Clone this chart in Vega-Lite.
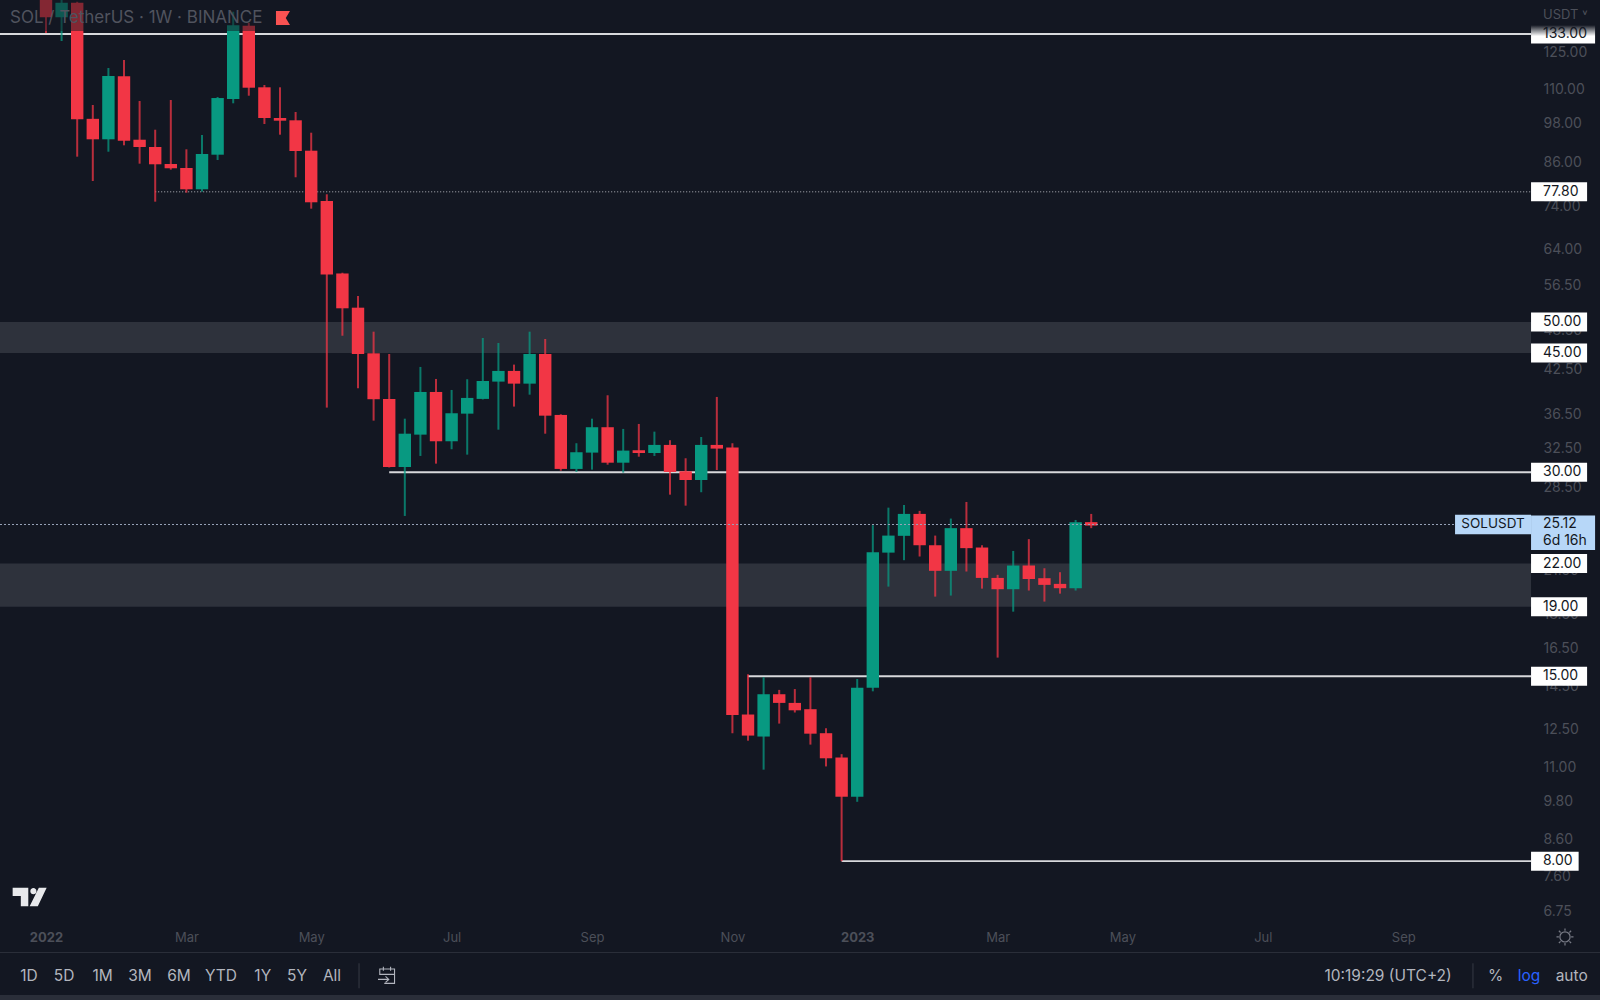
{
  "$schema": "https://vega.github.io/schema/vega-lite/v6.json",
  "background": "#131722",
  "padding": 0,
  "autosize": {"type": "none"},
  "width": 1600,
  "height": 1000,
  "view": {"stroke": null},
  "config": {"font": "Inter", "text": {"font": "Inter"}},
  "datasets": {
    "candles": [
      {"date":"2022-01-03","open":150.8,"high":155,"low":133.45,"close":140.8},
      {"date":"2022-01-10","open":140.8,"high":151,"low":129.87,"close":147.9},
      {"date":"2022-01-17","open":147.9,"high":148.4,"low":87.67,"close":99.54},
      {"date":"2022-01-24","open":99.7,"high":104.5,"low":80.72,"close":93.0},
      {"date":"2022-01-31","open":93.0,"high":118.49,"low":89.16,"close":115.31},
      {"date":"2022-02-07","open":115.2,"high":121.76,"low":91.12,"close":92.56},
      {"date":"2022-02-14","open":92.87,"high":105.92,"low":85.61,"close":90.6},
      {"date":"2022-02-21","open":90.6,"high":96.08,"low":75.24,"close":85.43},
      {"date":"2022-02-28","open":85.52,"high":106.28,"low":83.88,"close":84.28},
      {"date":"2022-03-07","open":84.36,"high":89.89,"low":77.57,"close":78.47},
      {"date":"2022-03-14","open":78.47,"high":94.37,"low":77.84,"close":88.47},
      {"date":"2022-03-21","open":88.26,"high":107.37,"low":86.69,"close":107.0},
      {"date":"2022-03-28","open":106.64,"high":143.47,"low":105.1,"close":136.99},
      {"date":"2022-04-04","open":136.8,"high":138.07,"low":107.85,"close":110.82},
      {"date":"2022-04-11","open":110.97,"high":111.84,"low":97.96,"close":99.98},
      {"date":"2022-04-18","open":99.98,"high":110.97,"low":94.47,"close":99.07},
      {"date":"2022-04-25","open":99.2,"high":102.04,"low":81.74,"close":89.38},
      {"date":"2022-05-02","open":89.47,"high":95.11,"low":73.47,"close":75.08},
      {"date":"2022-05-09","open":75.42,"high":77.15,"low":37.37,"close":58.75},
      {"date":"2022-05-16","open":58.95,"high":59.1,"low":47.71,"close":52.37},
      {"date":"2022-05-23","open":52.48,"high":54.61,"low":39.91,"close":44.84},
      {"date":"2022-05-30","open":44.94,"high":48.37,"low":35.75,"close":38.45},
      {"date":"2022-06-06","open":38.49,"high":44.84,"low":30.49,"close":30.54},
      {"date":"2022-06-13","open":30.54,"high":35.99,"low":25.86,"close":34.2},
      {"date":"2022-06-20","open":34.09,"high":42.91,"low":31.71,"close":39.41},
      {"date":"2022-06-27","open":39.41,"high":41.19,"low":30.89,"close":33.33},
      {"date":"2022-07-04","open":33.33,"high":39.68,"low":32.44,"close":36.66},
      {"date":"2022-07-11","open":36.61,"high":41.15,"low":31.85,"close":38.62},
      {"date":"2022-07-18","open":38.49,"high":47.34,"low":38.42,"close":40.91},
      {"date":"2022-07-25","open":40.82,"high":46.54,"low":34.67,"close":42.33},
      {"date":"2022-08-01","open":42.33,"high":43.25,"low":37.5,"close":40.54},
      {"date":"2022-08-08","open":40.54,"high":48.37,"low":39.05,"close":44.84},
      {"date":"2022-08-15","open":44.84,"high":47.18,"low":34.2,"close":36.36},
      {"date":"2022-08-22","open":36.45,"high":36.53,"low":30.16,"close":30.34},
      {"date":"2022-08-29","open":30.34,"high":33.11,"low":30.03,"close":32.11},
      {"date":"2022-09-05","open":32.07,"high":35.99,"low":30.27,"close":34.96},
      {"date":"2022-09-12","open":34.96,"high":38.97,"low":30.78,"close":30.99},
      {"date":"2022-09-19","open":30.99,"high":34.76,"low":29.96,"close":32.29},
      {"date":"2022-09-26","open":32.33,"high":35.35,"low":31.63,"close":32.03},
      {"date":"2022-10-03","open":32.03,"high":34.44,"low":31.71,"close":32.92},
      {"date":"2022-10-10","open":32.92,"high":33.45,"low":27.8,"close":30.03},
      {"date":"2022-10-17","open":30.1,"high":31.46,"low":26.78,"close":29.22},
      {"date":"2022-10-24","open":29.22,"high":33.82,"low":28.03,"close":32.92},
      {"date":"2022-10-31","open":32.92,"high":38.75,"low":30.23,"close":32.51},
      {"date":"2022-11-07","open":32.64,"high":33.11,"low":12.36,"close":13.15},
      {"date":"2022-11-14","open":13.17,"high":15.1,"low":12.05,"close":12.26},
      {"date":"2022-11-21","open":12.22,"high":14.95,"low":10.92,"close":14.11},
      {"date":"2022-11-28","open":14.11,"high":14.32,"low":12.77,"close":13.7},
      {"date":"2022-12-05","open":13.7,"high":14.36,"low":13.26,"close":13.36},
      {"date":"2022-12-12","open":13.41,"high":14.95,"low":11.89,"close":12.34},
      {"date":"2022-12-19","open":12.36,"high":12.57,"low":11.04,"close":11.35},
      {"date":"2022-12-26","open":11.38,"high":11.51,"low":8.0,"close":9.96},
      {"date":"2023-01-02","open":9.96,"high":14.86,"low":9.79,"close":14.43},
      {"date":"2023-01-09","open":14.43,"high":25.06,"low":14.25,"close":22.86},
      {"date":"2023-01-16","open":22.83,"high":26.6,"low":20.34,"close":24.19},
      {"date":"2023-01-23","open":24.17,"high":26.84,"low":22.25,"close":26.04},
      {"date":"2023-01-30","open":26.04,"high":26.31,"low":22.53,"close":23.41},
      {"date":"2023-02-06","open":23.41,"high":24.19,"low":19.66,"close":21.46},
      {"date":"2023-02-13","open":21.46,"high":25.63,"low":19.73,"close":24.81},
      {"date":"2023-02-20","open":24.81,"high":27.12,"low":21.41,"close":23.18},
      {"date":"2023-02-27","open":23.23,"high":23.41,"low":20.2,"close":20.95},
      {"date":"2023-03-06","open":20.95,"high":21.17,"low":15.98,"close":20.16},
      {"date":"2023-03-13","open":20.16,"high":22.96,"low":18.68,"close":21.85},
      {"date":"2023-03-20","open":21.85,"high":23.9,"low":20.07,"close":20.88},
      {"date":"2023-03-27","open":20.93,"high":21.65,"low":19.33,"close":20.46},
      {"date":"2023-04-03","open":20.53,"high":21.36,"low":19.86,"close":20.23},
      {"date":"2023-04-10","open":20.23,"high":25.51,"low":20.07,"close":25.32},
      {"date":"2023-04-17","open":25.32,"high":26.04,"low":24.81,"close":25.03}
    ],
    "toolbar": [
      {"label":"1D","date":"2021-12-26T09:00:00Z","price":5.42},
      {"label":"5D","date":"2022-01-11T02:00:00Z","price":5.42},
      {"label":"1M","date":"2022-01-28T10:30:00Z","price":5.42},
      {"label":"3M","date":"2022-02-14T04:00:00Z","price":5.42},
      {"label":"6M","date":"2022-03-03T16:00:00Z","price":5.42},
      {"label":"YTD","date":"2022-03-22T13:00:00Z","price":5.42},
      {"label":"1Y","date":"2022-04-10T06:00:00Z","price":5.42},
      {"label":"5Y","date":"2022-04-25T15:00:00Z","price":5.42},
      {"label":"All","date":"2022-05-11T08:00:00Z","price":5.42},
      {"label":"10:19:29 (UTC+2)","date":"2023-08-28T05:00:00Z","price":5.42},
      {"label":"%","date":"2023-10-15T12:00:00Z","price":5.42},
      {"label":"log","date":"2023-10-30T11:00:00Z","price":5.42},
      {"label":"auto","date":"2023-11-18T14:00:00Z","price":5.42}
    ]
  },
  "layer": [
    {
      "data": {"values": [
        {"top": 50, "bottom": 45, "start": "2021-12-13T08:38:00Z", "end": "2023-10-31T08:24:00Z"},
        {"top": 22, "bottom": 19, "start": "2021-12-13T08:38:00Z", "end": "2023-10-31T08:24:00Z"}
      ], "format": {"parse": {"start": "date", "end": "date"}}},
      "mark": {"type": "rect", "color": "#2e323c"},
      "encoding": {
        "y": {"field": "top", "type": "quantitative", "title": null, "scale": {"type": "log", "domain": [4.992, 149.3], "nice": false, "zero": false}},
        "y2": {"field": "bottom"},
        "x": {"field": "start", "type": "temporal", "title": null, "scale": {"type": "utc", "domain": ["2021-12-13T08:38:00Z", "2023-12-01T07:00:00Z"], "nice": false, "padding": 0}},
        "x2": {"field": "end"}
      }
    },
    {
      "data": {"values": [
        {"price": 133, "start": "2021-12-13T08:38:00Z", "end": "2023-10-31T08:24:00Z"},
        {"price": 30, "start": "2022-06-06", "end": "2023-10-31T08:24:00Z"},
        {"price": 15, "start": "2022-11-14", "end": "2023-10-31T08:24:00Z"},
        {"price": 8, "start": "2022-12-26", "end": "2023-10-31T08:24:00Z"}
      ], "format": {"parse": {"start": "date", "end": "date"}}},
      "mark": {"type": "rule", "color": "#d8d9dc", "strokeWidth": 1.8, "clip": true},
      "encoding": {
        "x": {"field": "start", "type": "temporal", "title": null},
        "x2": {"field": "end"},
        "y": {"field": "price", "type": "quantitative", "title": null}
      }
    },
    {
      "data": {"values": [{"price": 77.8, "start": "2022-02-21", "end": "2023-10-31T08:24:00Z"}], "format": {"parse": {"start": "date", "end": "date"}}},
      "mark": {"type": "rule", "color": "#b4b6bc", "strokeWidth": 1, "strokeDash": [1, 2], "clip": true},
      "encoding": {
        "x": {"field": "start", "type": "temporal", "title": null},
        "x2": {"field": "end"},
        "y": {"field": "price", "type": "quantitative", "title": null}
      }
    },
    {
      "data": {"name": "candles"},
      "mark": {"type": "rule", "strokeWidth": 2, "opacity": 0.75, "clip": true},
      "encoding": {
        "x": {"field": "date", "type": "temporal", "title": null},
        "y": {"field": "low", "type": "quantitative", "title": null},
        "y2": {"field": "high"},
        "color": {"condition": {"test": "datum.close >= datum.open", "value": "#089981"}, "value": "#f23645"}
      }
    },
    {
      "data": {"name": "candles"},
      "mark": {"type": "bar", "size": 12.4, "clip": true},
      "encoding": {
        "x": {
          "field": "date",
          "type": "temporal",
          "title": null,
          "scale": {"padding": 0},
          "axis": {
            "orient": "bottom",
            "values": ["2022-01-03", "2022-03-07", "2022-05-02", "2022-07-04", "2022-09-05", "2022-11-07", "2023-01-02", "2023-03-06", "2023-05-01", "2023-07-03", "2023-09-04"],
            "labelExpr": "utcmonth(datum.value) == 0 ? utcFormat(datum.value, '%Y') : utcFormat(datum.value, '%b')",
            "labelFontWeight": {"condition": {"test": "utcmonth(datum.value) == 0", "value": "bold"}, "value": "normal"},
            "domain": false,
            "ticks": false,
            "grid": false,
            "labelOverlap": false,
            "labelPadding": -69,
            "labelFontSize": 13,
            "labelFont": "Inter",
            "labelColor": "#4c4f59"
          }
        },
        "y": {
          "field": "open",
          "type": "quantitative",
          "title": null,
          "axis": {
            "orient": "right",
            "values": [125, 110, 98, 86, 74, 64, 56.5, 48.5, 42.5, 36.5, 32.5, 28.5, 21.5, 18.5, 16.5, 14.5, 12.5, 11, 9.8, 8.6, 7.6, 6.75],
            "format": ".2f",
            "domain": false,
            "ticks": false,
            "grid": false,
            "labelOverlap": false,
            "labelAlign": "left",
            "labelPadding": -57,
            "labelFontSize": 14,
            "labelFont": "Inter",
            "labelColor": "#4c4f59"
          }
        },
        "y2": {"field": "close"},
        "color": {"condition": {"test": "datum.close >= datum.open", "value": "#089981"}, "value": "#f23645"}
      }
    },
    {
      "data": {"values": [{"price": 25.12, "start": "2021-12-13T08:38:00Z", "end": "2023-09-27T06:00:00Z"}], "format": {"parse": {"start": "date", "end": "date"}}},
      "mark": {"type": "rule", "color": "#98a3ba", "strokeWidth": 1, "strokeDash": [2, 2], "clip": true},
      "encoding": {
        "x": {"field": "start", "type": "temporal", "title": null},
        "x2": {"field": "end"},
        "y": {"field": "price", "type": "quantitative", "title": null}
      }
    },
    {
      "data": {"values": [{"top": 149.3, "bottom": 134.4}]},
      "mark": {"type": "rect", "color": "#131722", "opacity": 0.5},
      "encoding": {
        "y": {"field": "top", "type": "quantitative", "title": null},
        "y2": {"field": "bottom"}
      }
    },
    {
      "data": {"values": [{"label": "SOL / TetherUS · 1W · BINANCE", "date": "2021-12-17T20:00:00Z", "price": 140.4}]},
      "mark": {"type": "text", "align": "left", "fontSize": 17, "color": "#50535e"},
      "encoding": {
        "x": {"field": "date", "type": "temporal", "title": null},
        "y": {"field": "price", "type": "quantitative", "title": null},
        "text": {"field": "label"}
      }
    },
    {
      "data": {"values": [{"date": "2022-04-19T08:00:00Z", "price": 140.4}]},
      "mark": {"type": "point", "shape": "M-0.5,-0.5H0.5L0.2,0L0.5,0.5H-0.5Z", "size": 784, "filled": true, "opacity": 1, "color": "#f95252"},
      "encoding": {
        "x": {"field": "date", "type": "temporal", "title": null},
        "y": {"field": "price", "type": "quantitative", "title": null}
      }
    },
    {
      "data": {"values": [{"label": "USDT ˅", "date": "2023-11-05T17:00:00Z", "price": 141.9}]},
      "mark": {"type": "text", "align": "left", "fontSize": 13, "color": "#4c4f59"},
      "encoding": {
        "x": {"field": "date", "type": "temporal", "title": null},
        "y": {"field": "price", "type": "quantitative", "title": null},
        "text": {"field": "label"}
      }
    },
    {
      "data": {"values": [{"top": 137.1, "bottom": 128.8, "start": "2023-10-31T08:24:00Z", "end": "2023-11-29T02:00:00Z"}], "format": {"parse": {"start": "date", "end": "date"}}},
      "mark": {
        "type": "rect",
        "color": {
          "gradient": "linear", "x1": 0, "y1": 0, "x2": 0, "y2": 1,
          "stops": [{"offset": 0, "color": "#131722"}, {"offset": 0.6, "color": "#ffffff"}, {"offset": 1, "color": "#ffffff"}]
        }
      },
      "encoding": {
        "x": {"field": "start", "type": "temporal", "title": null},
        "x2": {"field": "end"},
        "y": {"field": "top", "type": "quantitative", "title": null},
        "y2": {"field": "bottom"}
      }
    },
    {
      "data": {"values": [
        {"price": 77.8, "start": "2023-10-31T08:24:00Z", "end": "2023-11-25T12:00:00Z"},
        {"price": 50, "start": "2023-10-31T08:24:00Z", "end": "2023-11-25T12:00:00Z"},
        {"price": 45, "start": "2023-10-31T08:24:00Z", "end": "2023-11-25T12:00:00Z"},
        {"price": 30, "start": "2023-10-31T08:24:00Z", "end": "2023-11-25T12:00:00Z"},
        {"price": 22, "start": "2023-10-31T08:24:00Z", "end": "2023-11-25T12:00:00Z"},
        {"price": 19, "start": "2023-10-31T08:24:00Z", "end": "2023-11-25T12:00:00Z"},
        {"price": 15, "start": "2023-10-31T08:24:00Z", "end": "2023-11-25T12:00:00Z"},
        {"price": 8, "start": "2023-10-31T08:24:00Z", "end": "2023-11-21T17:00:00Z"}
      ], "format": {"parse": {"start": "date", "end": "date"}}},
      "mark": {"type": "rule", "color": "#ffffff", "strokeWidth": 19},
      "encoding": {
        "x": {"field": "start", "type": "temporal", "title": null},
        "x2": {"field": "end"},
        "y": {"field": "price", "type": "quantitative", "title": null}
      }
    },
    {
      "data": {"values": [{"price": 25.12, "start": "2023-09-27T06:00:00Z", "end": "2023-10-31T08:24:00Z"}], "format": {"parse": {"start": "date", "end": "date"}}},
      "mark": {"type": "rule", "color": "#b7d7f8", "strokeWidth": 19.5},
      "encoding": {
        "x": {"field": "start", "type": "temporal", "title": null},
        "x2": {"field": "end"},
        "y": {"field": "price", "type": "quantitative", "title": null}
      }
    },
    {
      "data": {"values": [{"top": 25.91, "bottom": 23.03, "start": "2023-10-31T08:24:00Z", "end": "2023-11-29T02:00:00Z"}], "format": {"parse": {"start": "date", "end": "date"}}},
      "mark": {"type": "rect", "color": "#b7d7f8"},
      "encoding": {
        "x": {"field": "start", "type": "temporal", "title": null},
        "x2": {"field": "end"},
        "y": {"field": "top", "type": "quantitative", "title": null},
        "y2": {"field": "bottom"}
      }
    },
    {
      "data": {"values": [
        {"label": "133.00", "price": 133, "date": "2023-11-05T17:00:00Z"},
        {"label": "77.80", "price": 77.8, "date": "2023-11-05T17:00:00Z"},
        {"label": "50.00", "price": 50, "date": "2023-11-05T17:00:00Z"},
        {"label": "45.00", "price": 45, "date": "2023-11-05T17:00:00Z"},
        {"label": "30.00", "price": 30, "date": "2023-11-05T17:00:00Z"},
        {"label": "25.12", "price": 25.12, "date": "2023-11-05T17:00:00Z"},
        {"label": "6d 16h", "price": 23.79, "date": "2023-11-05T17:00:00Z"},
        {"label": "22.00", "price": 22, "date": "2023-11-05T17:00:00Z"},
        {"label": "19.00", "price": 19, "date": "2023-11-05T17:00:00Z"},
        {"label": "15.00", "price": 15, "date": "2023-11-05T17:00:00Z"},
        {"label": "8.00", "price": 8, "date": "2023-11-05T17:00:00Z"}
      ]},
      "mark": {"type": "text", "align": "left", "fontSize": 14, "color": "#131722"},
      "encoding": {
        "x": {"field": "date", "type": "temporal", "title": null},
        "y": {"field": "price", "type": "quantitative", "title": null},
        "text": {"field": "label"}
      }
    },
    {
      "data": {"values": [{"label": "SOLUSDT", "price": 25.12, "date": "2023-10-14T07:00:00Z"}]},
      "mark": {"type": "text", "fontSize": 13.5, "color": "#131722"},
      "encoding": {
        "x": {"field": "date", "type": "temporal", "title": null},
        "y": {"field": "price", "type": "quantitative", "title": null},
        "text": {"field": "label"}
      }
    },
    {
      "data": {"values": [{"date": "2021-12-26T16:00:00Z", "price": 7.085}]},
      "mark": {
        "type": "point",
        "shape": "M-0.5,-0.27H-0.04V0.27H-0.26V-0.03H-0.5ZM0.02,-0.17A0.09,0.09 0 1 1 0.2,-0.17A0.09,0.09 0 1 1 0.02,-0.17ZM0.27,-0.27H0.5L0.24,0.27H0Z",
        "size": 4624, "filled": true, "opacity": 1, "color": "#e8e9ec"
      },
      "encoding": {
        "x": {"field": "date", "type": "temporal", "title": null},
        "y": {"field": "price", "type": "quantitative", "title": null}
      }
    },
    {
      "data": {"values": [{"date": "2023-11-15T14:00:00Z", "price": 6.186}]},
      "mark": {
        "type": "point",
        "shape": "M-0.3,0A0.3,0.3 0 1 1 0.3,0A0.3,0.3 0 1 1 -0.3,0ZM0,-0.5V-0.36M0,0.36V0.5M-0.5,0H-0.36M0.36,0H0.5M-0.36,-0.36L-0.26,-0.26M0.26,0.26L0.36,0.36M-0.36,0.36L-0.26,0.26M0.26,-0.26L0.36,-0.36",
        "size": 1156, "filled": false, "strokeWidth": 1.2, "opacity": 1, "color": "#787b86"
      },
      "encoding": {
        "x": {"field": "date", "type": "temporal", "title": null},
        "y": {"field": "price", "type": "quantitative", "title": null}
      }
    },
    {
      "data": {"values": [
        {"top": 5.876, "bottom": 5.856, "start": "2021-12-13T08:38:00Z", "end": "2023-12-01T07:00:00Z"},
        {"top": 5.078, "bottom": 4.992, "start": "2021-12-13T08:38:00Z", "end": "2023-12-01T07:00:00Z"}
      ], "format": {"parse": {"start": "date", "end": "date"}}},
      "mark": {"type": "rect", "color": "#2a2e39"},
      "encoding": {
        "x": {"field": "start", "type": "temporal", "title": null},
        "x2": {"field": "end"},
        "y": {"field": "top", "type": "quantitative", "title": null},
        "y2": {"field": "bottom"}
      }
    },
    {
      "data": {"name": "toolbar"},
      "mark": {"type": "text", "fontSize": 15.5},
      "encoding": {
        "x": {"field": "date", "type": "temporal", "title": null},
        "y": {"field": "price", "type": "quantitative", "title": null},
        "text": {"field": "label"},
        "color": {"condition": {"test": "datum.label == 'log'", "value": "#2962ff"}, "value": "#b2b5be"}
      }
    },
    {
      "data": {"values": [{"date": "2022-05-23T11:00:00Z", "price": 5.42}, {"date": "2023-10-05T07:00:00Z", "price": 5.42}]},
      "mark": {"type": "point", "shape": "M0,-0.5V0.5", "size": 2500, "filled": false, "strokeWidth": 1, "opacity": 1, "color": "#363a45"},
      "encoding": {
        "x": {"field": "date", "type": "temporal", "title": null},
        "y": {"field": "price", "type": "quantitative", "title": null}
      }
    },
    {
      "data": {"values": [{"date": "2022-06-05T00:00:00Z", "price": 5.42}]},
      "mark": {
        "type": "point",
        "shape": "M-0.4,-0.05V-0.38H0.42V0.42H-0.15M-0.4,-0.08H0.42M-0.2,-0.5V-0.28M0.2,-0.5V-0.28M-0.5,0.2H0.1M-0.08,0.03L0.1,0.2L-0.08,0.37",
        "size": 1296, "filled": false, "strokeWidth": 1.1, "opacity": 1, "color": "#b2b5be"
      },
      "encoding": {
        "x": {"field": "date", "type": "temporal", "title": null},
        "y": {"field": "price", "type": "quantitative", "title": null}
      }
    }
  ]
}
